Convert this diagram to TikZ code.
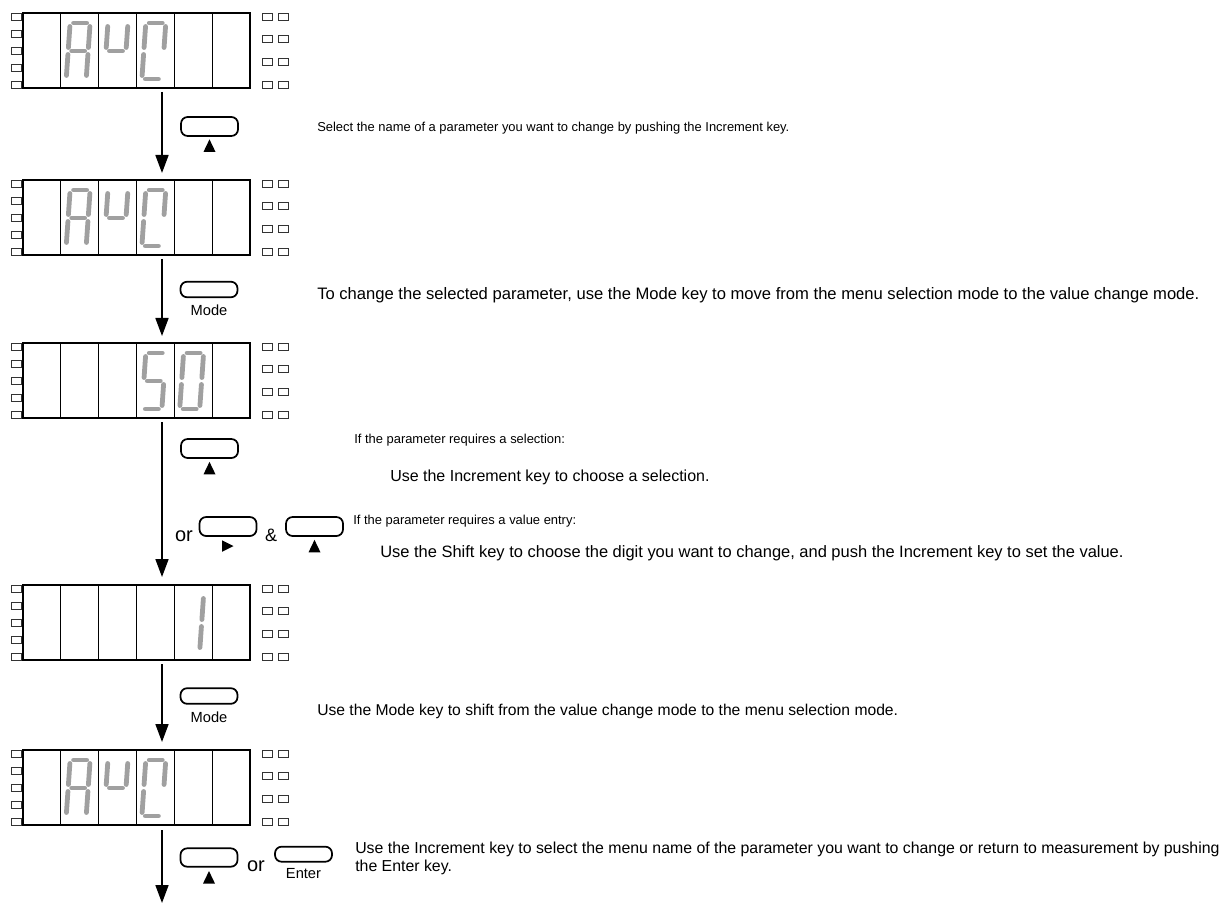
\documentclass[tikz,border=0pt]{standalone}
\usepackage{fontspec}
\setmainfont{Liberation Sans}
\usetikzlibrary{arrows.meta,calc}
\definecolor{segcol}{HTML}{A0A0A0}
\tikzset{
  frame/.style={draw=black, line width=0.9pt, inner sep=0pt, outer sep=0pt, minimum width=170.25pt, minimum height=56.25pt, anchor=north west},
  divider/.style={line width=0.9pt},
  led/.style={draw=black!80, line width=0.6pt},
  seg/.style={line width=3.6pt, line cap=round, draw=segcol},
  keybox/.style={draw, line width=1.3pt, rounded corners=5pt, minimum width=42.75pt, minimum height=14.25pt, inner sep=0pt},
  keylabel/.style={font=\fontsize{11}{13}\selectfont, inner sep=0pt},
  bigtxt/.style={font=\fontsize{15}{17}\selectfont, inner sep=0pt},
  desc/.style={font=\fontsize{9.7}{13.5}\selectfont, anchor=west, inner sep=0pt},
  descl/.style={desc, font=\fontsize{#1}{13.5}\selectfont},
  arr/.style={line width=1.3pt, -{Triangle[width=9.75pt,length=13.5pt]}},
}
\def\segpa{(13.5,10) -- (26.5,10)}
\def\segpb{(30,13.5) -- (30,34.5)}
\def\segpc{(30,41.5) -- (30,62.5)}
\def\segpd{(13.5,66) -- (26.5,66)}
\def\segpe{(10,41.5) -- (10,62.5)}
\def\segpf{(10,13.5) -- (10,34.5)}
\def\segpg{(13.5,38) -- (26.5,38)}
\newcommand\sevenseg[3]{%
  \begin{scope}[shift={(23+#1*37.83-37.83,#2)},xslant=0.07]
  \foreach \s in {#3}{\edef\segtmp{\noexpand\draw[seg] \csname segp\s\endcsname;}\segtmp}
  \end{scope}}
\newcommand\mkdisp[2]{%
  \node[frame] (#1) at (23,#2) {};
  \foreach \i in {1,...,5}{\draw[divider] (23+\i*37.83,#2) -- (23+\i*37.83,#2+75);}
  \foreach \r in {0,17,34.5,51.5,68}{\draw[led] (11,#2+\r) rectangle ++(10,7);}
  \foreach \r in {0,22.7,45.3,68}{\draw[led] (262,#2+\r) rectangle ++(10,7);
    \draw[led] (278,#2+\r) rectangle ++(10,7);}
}
\newcommand\uptri[2]{\fill ($(#1.south)+(0,#2)$) -- ++(6,12.5) -- ++(-12,0) -- cycle;}
\begin{document}
\begin{tikzpicture}[x=0.75pt,y=-0.75pt]
\fill[white] (0,0) rectangle (1230,905);
\useasboundingbox (0,0) rectangle (1230,905);
\coordinate (ax) at (162,0);
\mkdisp{d1}{13}
\mkdisp{d2}{180}
\mkdisp{d3}{343}
\mkdisp{d4}{585}
\mkdisp{d5}{750}
% digits
\foreach \t in {13,180,750}{
  \sevenseg{2}{\t}{a,b,c,e,f,g}
  \sevenseg{3}{\t}{f,g,b}
  \sevenseg{4}{\t}{a,b,f,e,d}
}
\sevenseg{4}{343}{a,f,g,c,d}
\sevenseg{5}{343}{a,b,c,d,e,f}
\sevenseg{5}{585}{b,c}
% arrows
\coordinate (endp) at (162,903);
\draw[arr] ($(d1.south -| ax)+(0,4)$) -- ($(d2.north -| ax)+(0,-7)$);
\draw[arr] ($(d2.south -| ax)+(0,4)$) -- ($(d3.north -| ax)+(0,-7)$);
\draw[arr] ($(d3.south -| ax)+(0,4)$) -- ($(d4.north -| ax)+(0,-8)$);
\draw[arr] ($(d4.south -| ax)+(0,4)$) -- ($(d5.north -| ax)+(0,-8)$);
\draw[arr] ($(d5.south -| ax)+(0,5)$) -- (endp);
% keys
\node[keybox] (k1) at (209.5,126.5) {};
\uptri{k1}{2.5}
\node[keybox, minimum height=11.7pt] (k2) at (209,289.5) {};
\node[keylabel] (k2l) at (209,310) {Mode};
\node[keybox] (k3) at (209.5,448.5) {};
\uptri{k3}{3}
\node[bigtxt] (or1) at (184,536) {or};
\node[keybox] (k4) at (228,526.5) {};
\fill ($(k4.south)+(-6,3.5)$) -- ++(11.5,5.75) -- ++(-11.5,5.75) -- cycle;
\node[font=\fontsize{13.5}{15}\selectfont, inner sep=0pt] (amp) at (271,535) {\&};
\node[keybox] (k5) at (314.5,526.5) {};
\uptri{k5}{3}
\node[keybox, minimum height=11.7pt] (k6) at (209,696) {};
\node[keylabel] (k6l) at (209,717) {Mode};
\node[keybox, minimum height=13.8pt] (k7) at (209,857.5) {};
\uptri{k7}{3.5}
\node[bigtxt] (or2) at (256,866.5) {or};
\node[keybox, minimum height=11.3pt] (k8) at (303.5,854.2) {};
\node[keylabel] (k8l) at (303.5,874) {Enter};
% texts
\node[desc] (t1) at (317,128) {Select the name of a parameter you want to change by pushing the Increment key.};
\node[descl=12.45] (t2) at (317,295) {To change the selected parameter, use the Mode key to move from the menu selection mode to the value change mode.};
\node[desc] (t3) at (354,440) {If the parameter requires a selection:};
\node[descl=12] (t4) at (390,477) {Use the Increment key to choose a selection.};
\node[desc] (t5) at (353,521) {If the parameter requires a value entry:};
\node[descl=12.35] (t6) at (380,553) {Use the Shift key to choose the digit you want to change, and push the Increment key to set the value.};
\node[descl=11.75] (t7) at (317,711) {Use the Mode key to shift from the value change mode to the menu selection mode.};
\node[descl=11.9, align=left] (t8) at (355,858) {Use the Increment key to select the menu name of the parameter you want to change or return to measurement by pushing\\the Enter key.};
\end{tikzpicture}
\end{document}
